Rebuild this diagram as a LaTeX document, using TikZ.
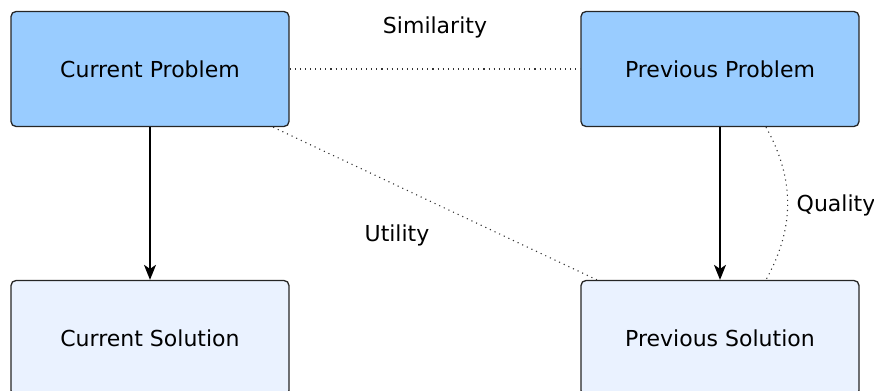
\documentclass[tikz,border=0pt]{standalone}
\usepackage{fontspec}
\setmainfont{DejaVu Sans}
\usetikzlibrary{arrows.meta}
\definecolor{P}{RGB}{153, 204, 255}
\definecolor{S}{RGB}{234, 242, 255}

\begin{document}
\begin{tikzpicture}[x=0.5pt, y=-0.5pt, font=\fontsize{11}{13}\selectfont,
	caja/.style={draw=black!85, line width=0.65pt, rounded corners=2.5pt,
		minimum width=139pt, minimum height=57.5pt},
	flecha/.style={line width=0.65pt, -{Stealth[length=7.5pt, width=6pt, inset=2pt]}},
	punteado/.style={dotted, line width=0.55pt, black!80}]
	% Marco del dibujo
	\useasboundingbox (0,0) rectangle (874,391);

	% Problemas (arriba)
	\node[caja, fill=P] (cp) at (150,69) {Current Problem};
	\node[caja, fill=P] (pp) at (720,69) {Previous Problem};

	% Soluciones (abajo), cortadas por el marco
	\node[caja, fill=S] (cs) at (150,338) {Current Solution};
	\node[caja, fill=S] (ps) at (720,338) {Previous Solution};

	% Flechas problema -> solucion
	\draw[flecha] (cp) -- (cs);
	\draw[flecha] (pp) -- (ps);

	% Relaciones punteadas
	\draw[punteado] (cp) -- (pp);
	\draw[punteado] (cp) -- (ps);
	\draw[punteado] ([xshift=23pt]pp.south) to[bend left=29] ([xshift=23pt]ps.north);

	% Etiquetas
	\node (sim) at (435,27) {Similarity};
	\node (uti) at (397,235) {Utility};
	\node (cal) at (836,205) {Quality};
\end{tikzpicture}
\end{document}
